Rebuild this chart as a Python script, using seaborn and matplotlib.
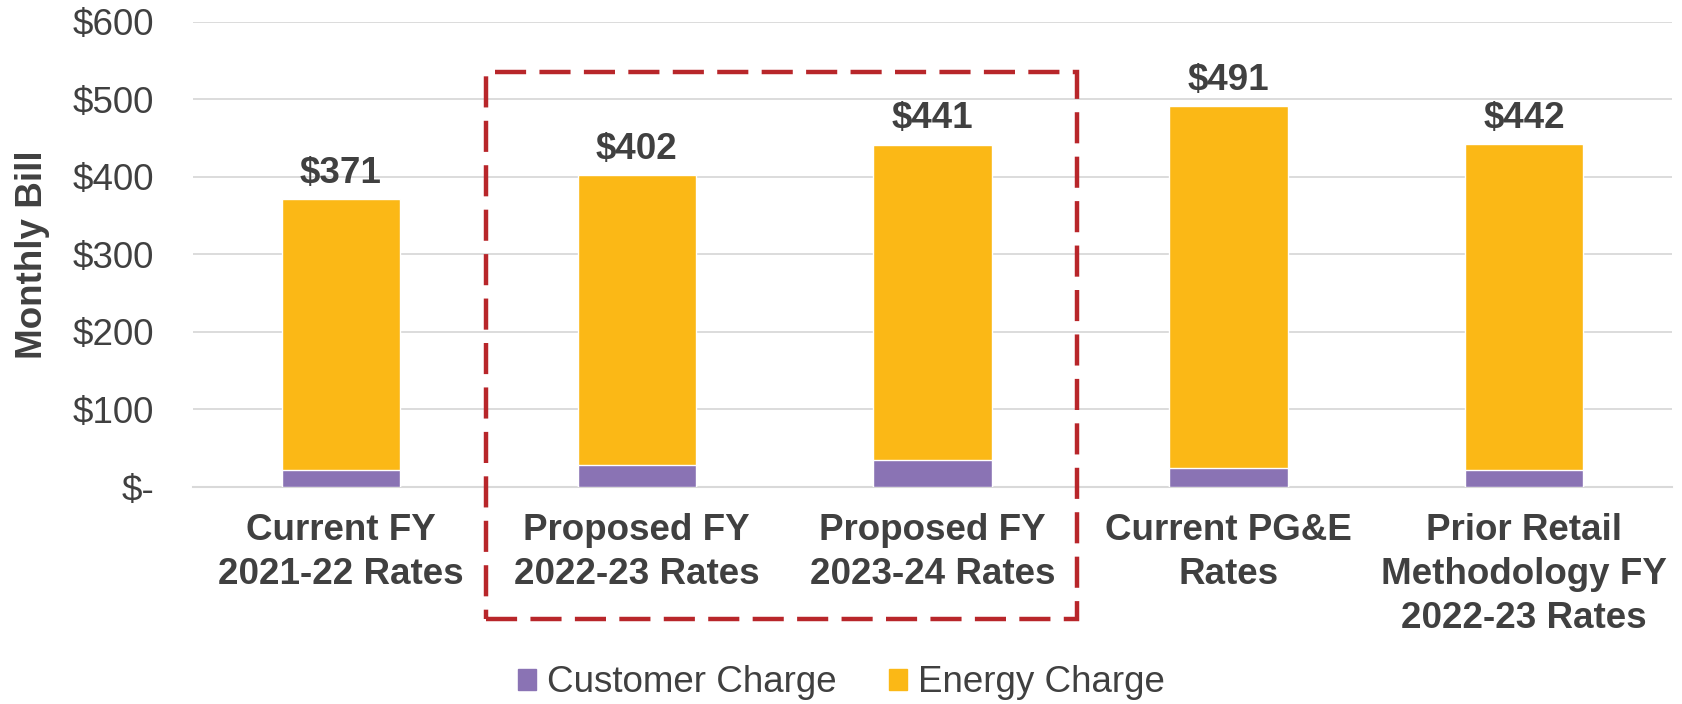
import pandas as pd
import numpy as np
import matplotlib
matplotlib.use('Agg')
import matplotlib.pyplot as plt
import seaborn as sns
from matplotlib.patches import Rectangle, Patch

# Dữ liệu
categories = ['Current FY\n2021-22 Rates', 'Proposed FY\n2022-23 Rates', 'Proposed FY\n2023-24 Rates',
              'Current PG&E\nRates', 'Prior Retail\nMethodology FY\n2022-23 Rates']
customer_charge = [22, 28, 35, 25, 22]
energy_charge = [349, 374, 406, 466, 420]
total_labels = ['$371', '$402', '$441', '$491', '$442']
y_ticks = [0, 100, 200, 300, 400, 500, 600]
y_tick_labels = ['$-', '$100', '$200', '$300', '$400', '$500', '$600']

df = pd.DataFrame({'Category': categories,
                   'Customer Charge': customer_charge,
                   'Energy Charge': energy_charge})
df['Total'] = df['Customer Charge'] + df['Energy Charge']

sns.set_style('white')
plt.rcParams['font.family'] = ['Liberation Sans', 'DejaVu Sans']

purple = '#8A73B4'
orange = '#FBB816'
text_col = '#404040'
fs = 26.5

fig = plt.figure(figsize=(16.83, 7.04), dpi=100)
ax = fig.add_axes([0.1147, 0.3082, 0.8788, 0.661])

# Cột chồng: tổng (cam) rồi phần phí khách hàng (tím) ở dưới
sns.barplot(data=df, x='Category', y='Total', color=orange, width=0.4,
            saturation=1, ax=ax, zorder=3)
sns.barplot(data=df, x='Category', y='Customer Charge', color=purple, width=0.4,
            saturation=1, ax=ax, zorder=4)

for i, (t, lab) in enumerate(zip(df['Total'], total_labels)):
    ax.text(i, t + 11, lab, ha='center', va='bottom', fontsize=fs,
            fontweight='bold', color=text_col)

ax.set_xlim(-0.5, 4.5)
ax.set_ylim(0, 600)
ax.set_yticks(y_ticks)
ax.set_yticklabels(y_tick_labels, fontsize=fs, color=text_col)
ax.set_xticks(range(len(categories)))
ax.set_xticklabels(categories, fontsize=fs, fontweight='bold', color=text_col,
                   linespacing=1.33)
ax.tick_params(axis='both', length=0)
ax.tick_params(axis='x', pad=19)
ax.tick_params(axis='y', pad=28)
ax.set_xlabel('')
ax.set_ylabel('Monthly Bill', fontsize=fs, fontweight='bold', color=text_col, labelpad=16)

ax.yaxis.grid(True, color='#D9D9D9', linewidth=1.3, zorder=0)
ax.set_axisbelow(True)
for s in ['top', 'right', 'left']:
    ax.spines[s].set_visible(False)
ax.spines['bottom'].set_color('#D9D9D9')
ax.spines['bottom'].set_linewidth(1.5)

# Khung nét đứt đỏ
rect = Rectangle((0.49, -170), 2.0, 705, fill=False, edgecolor='#B8262A',
                 linewidth=3.2, linestyle=(0, (7, 3)), clip_on=False, zorder=5)
ax.add_patch(rect)

handles = [Patch(color=purple, label='Customer Charge'),
           Patch(color=orange, label='Energy Charge')]
leg = fig.legend(handles=handles, loc='center', bbox_to_anchor=(0.5, 0.03),
                 ncol=2, frameon=False, fontsize=fs, handlelength=0.5, handleheight=0.5,
                 handletextpad=0.3, columnspacing=1.4)
for t in leg.get_texts():
    t.set_color(text_col)

fig.savefig('out.png', dpi=100)
